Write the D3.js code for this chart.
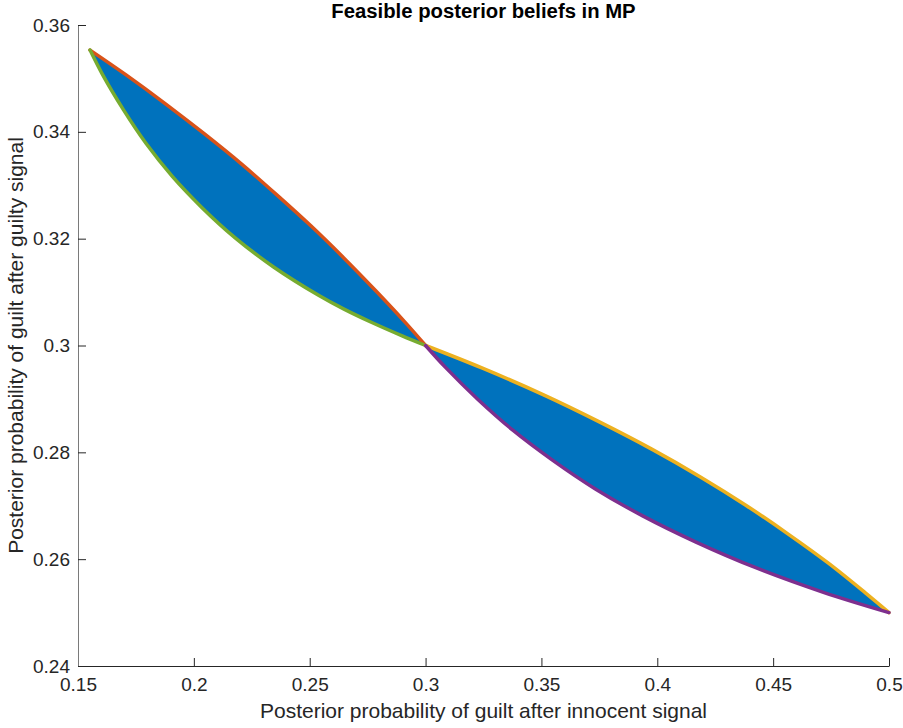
<!DOCTYPE html>
<html>
<head>
<meta charset="utf-8">
<script src="https://cdn.jsdelivr.net/npm/d3@7"></script>
<style>
  html, body { margin: 0; padding: 0; background: #fff; }
  svg { display: block; }
  text { font-family: "Liberation Sans", Arial, Helvetica, sans-serif; }
</style>
</head>
<body>
<svg id="chart" width="903" height="728"></svg>
<script>
// ---- data ----
const xTicks = [0.15, 0.2, 0.25, 0.3, 0.35, 0.4, 0.45, 0.5];
const xTickLabels = ["0.15", "0.2", "0.25", "0.3", "0.35", "0.4", "0.45", "0.5"];
const yTicks = [0.24, 0.26, 0.28, 0.3, 0.32, 0.34, 0.36];
const yTickLabels = ["0.24", "0.26", "0.28", "0.3", "0.32", "0.34", "0.36"];

// upper-left lobe: upper boundary (orange) and lower boundary (green)
const orangeX = [0.1552, 0.1706, 0.1879, 0.2046, 0.2205, 0.2358, 0.2505, 0.2647, 0.2784, 0.2915, 0.3];
const orangeY = [0.3553, 0.3507, 0.3452, 0.3396, 0.3340, 0.3282, 0.3224, 0.3164, 0.3103, 0.3042, 0.3];
const greenX = [0.1552, 0.1606, 0.1695, 0.1794, 0.1906, 0.2033, 0.2177, 0.2344, 0.2538, 0.2648, 0.2768, 0.2899, 0.3];
const greenY = [0.3553, 0.3507, 0.3442, 0.3378, 0.3317, 0.3259, 0.3202, 0.3147, 0.3094, 0.3068, 0.3043, 0.3018, 0.3];

// lower-right lobe: upper boundary (yellow) and lower boundary (purple)
const yellowX = [0.3, 0.3243, 0.3507, 0.3750, 0.3976, 0.4186, 0.4382, 0.4565, 0.4737, 0.4898, 0.5];
const yellowY = [0.3, 0.2958, 0.2908, 0.2857, 0.2806, 0.2754, 0.2701, 0.2647, 0.2593, 0.2537, 0.25];
const purpleX = [0.3, 0.3086, 0.3226, 0.3378, 0.3546, 0.3731, 0.3937, 0.4167, 0.4425, 0.4717, 0.5];
const purpleY = [0.3, 0.2959, 0.2899, 0.2841, 0.2786, 0.2732, 0.2681, 0.2632, 0.2584, 0.2538, 0.25];

const titleText = "Feasible posterior beliefs in MP";
const xLabelText = "Posterior probability of guilt after innocent signal";
const yLabelText = "Posterior probability of guilt after guilty signal";

// ---- layout ----
const svg = d3.select("#chart");
const L = 78, R = 889, T = 25, B = 666;
const x = d3.scaleLinear().domain([0.15, 0.5]).range([L, R]);
const y = d3.scaleLinear().domain([0.24, 0.36]).range([B, T]);

const axisColor = "#262626";
const fillColor = "#0072BD";
const colors = { orange: "#D95319", green: "#77AC30", yellow: "#EDB120", purple: "#7E2F8E" };

const zip = (xs, ys) => xs.map((v, i) => [v, ys[i]]);
const orange = zip(orangeX, orangeY);
const green = zip(greenX, greenY);
const yellow = zip(yellowX, yellowY);
const purple = zip(purpleX, purpleY);

const line = d3.line().x(d => x(d[0])).y(d => y(d[1])).curve(d3.curveCatmullRom.alpha(0.5));

function lobePath(upper, lower) {
  const a = line(upper);
  const b = line(lower.slice().reverse()).replace(/^M/, "L");
  return a + b + "Z";
}

// fills
svg.append("path").attr("d", lobePath(orange, green)).attr("fill", fillColor).attr("stroke", "none");
svg.append("path").attr("d", lobePath(yellow, purple)).attr("fill", fillColor).attr("stroke", "none");

// boundary lines
[[orange, colors.orange], [green, colors.green], [yellow, colors.yellow], [purple, colors.purple]].forEach(([d, c]) => {
  svg.append("path").attr("d", line(d)).attr("fill", "none").attr("stroke", c)
    .attr("stroke-width", 3.5).attr("stroke-linejoin", "round").attr("stroke-linecap", "round");
});

// axes (MATLAB style: inward ticks, no box)
const tickFont = 19;
const xAxis = d3.axisBottom(x).tickValues(xTicks).tickFormat((d, i) => xTickLabels[i]).tickSizeInner(-8).tickSizeOuter(0).tickPadding(12);
const gx = svg.append("g").attr("transform", `translate(0,${B})`).call(xAxis);
gx.select(".domain").attr("stroke", axisColor);
gx.selectAll(".tick line").attr("stroke", axisColor);
gx.selectAll(".tick text").attr("fill", axisColor).attr("font-size", tickFont).attr("font-family", "Liberation Sans, Arial, sans-serif");

const yAxis = d3.axisLeft(y).tickValues(yTicks).tickFormat((d, i) => yTickLabels[i]).tickSizeInner(-8).tickSizeOuter(0).tickPadding(8);
const gy = svg.append("g").attr("transform", `translate(${L},0)`).call(yAxis);
gy.select(".domain").attr("stroke", "#7a7a7a");
gy.selectAll(".tick line").attr("stroke", axisColor);
gy.selectAll(".tick text").attr("fill", axisColor).attr("font-size", tickFont).attr("font-family", "Liberation Sans, Arial, sans-serif");

// title and labels
svg.append("text").attr("x", (L + R) / 2).attr("y", 17.5).attr("text-anchor", "middle")
  .attr("font-size", 20.3).attr("font-weight", "bold").attr("fill", "#000").text(titleText);
svg.append("text").attr("x", (L + R) / 2).attr("y", 718).attr("text-anchor", "middle")
  .attr("font-size", 21).attr("fill", axisColor).text(xLabelText);
svg.append("text").attr("transform", `translate(23,${(T + B) / 2}) rotate(-90)`).attr("text-anchor", "middle")
  .attr("font-size", 21).attr("fill", axisColor).text(yLabelText);
</script>
</body>
</html>
